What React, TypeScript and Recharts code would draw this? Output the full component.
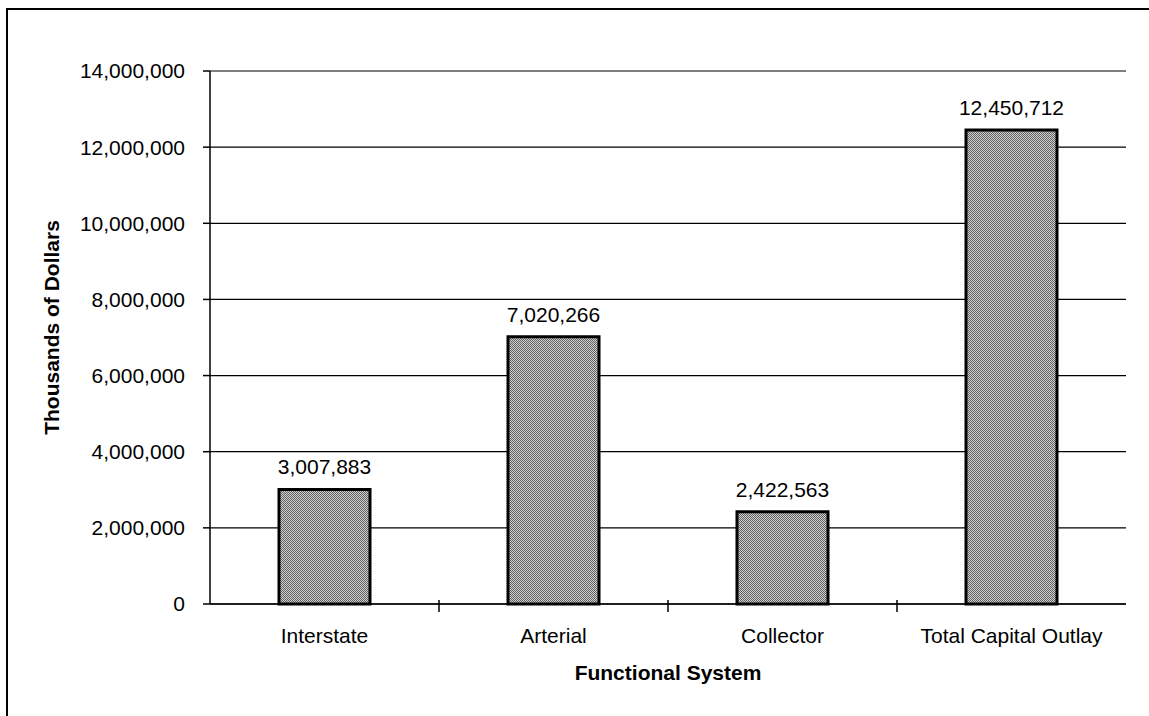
import React from 'react';
import { BarChart, Bar, XAxis, YAxis, CartesianGrid, LabelList } from 'recharts';

const categories = ['Interstate', 'Arterial', 'Collector', 'Total Capital Outlay'];
const outlay = [3007883, 7020266, 2422563, 12450712];
const yTicks = [0, 2000000, 4000000, 6000000, 8000000, 10000000, 12000000, 14000000];

const data = categories.map((name, i) => ({ name, value: outlay[i] }));

const FONT = 'Arial, "Liberation Sans", sans-serif';
const fmt = (v: number) => v.toLocaleString('en-US');

const CategoryTick = (props: any) => {
    const { x, y, payload, index, visibleTicksCount } = props;
    const half = payload.offset ?? 114.5;
    const last = index === (visibleTicksCount ?? categories.length) - 1;
    return (
        <g>
            <text x={x} y={y + 39} textAnchor="middle" fill="#000" fontSize={21} fontFamily={FONT}>
                {payload.value}
            </text>
            {!last && (
                <line x1={x + half} x2={x + half} y1={y - 4} y2={y + 8} stroke="#000" strokeWidth={1.5} />
            )}
        </g>
    );
};

export default function App() {
    return (
        <div style={{ position: 'absolute', left: 0, top: 0, width: 1149, height: 716, background: '#fff' }}>
            <div
                style={{
                    position: 'absolute',
                    left: 6,
                    top: 8,
                    width: 1149,
                    height: 720,
                    borderLeft: '2px solid #000',
                    borderTop: '2px solid #000'
                }}
            />
            <div style={{ position: 'absolute', left: 0, top: 0 }}>
                <BarChart
                    width={1149}
                    height={716}
                    data={data}
                    margin={{ top: 71, right: 23, bottom: 0, left: 0 }}
                    barCategoryGap={0}
                >
                    <defs>
                        <pattern id="dither" width={2} height={2} patternUnits="userSpaceOnUse">
                            <rect x={0} y={0} width={2} height={2} fill="#cfcfcf" />
                            <rect x={0} y={0} width={1} height={1} fill="#626262" />
                            <rect x={1} y={1} width={1} height={1} fill="#626262" />
                        </pattern>
                    </defs>
                    <CartesianGrid vertical={false} stroke="#000" strokeWidth={1.2} />
                    <XAxis
                        dataKey="name"
                        height={112}
                        axisLine={{ stroke: '#000', strokeWidth: 1.5 }}
                        tickLine={false}
                        tickSize={0}
                        tickMargin={0}
                        interval={0}
                        tick={<CategoryTick />}
                        label={{
                            content: ({ viewBox }: any) => (
                                <text
                                    x={viewBox.x + viewBox.width / 2}
                                    y={viewBox.y + 76}
                                    textAnchor="middle"
                                    fontSize={21}
                                    fontWeight="bold"
                                    fontFamily={FONT}
                                    fill="#000"
                                >
                                    Functional System
                                </text>
                            )
                        }}
                    />
                    <YAxis
                        width={210}
                        domain={[0, 14000000]}
                        ticks={yTicks}
                        interval={0}
                        tickFormatter={fmt}
                        axisLine={{ stroke: '#000', strokeWidth: 1.5 }}
                        tickLine={{ stroke: '#000', strokeWidth: 1.5 }}
                        tickSize={7}
                        tickMargin={18}
                        tick={{ fill: '#000', fontSize: 21, fontFamily: FONT }}
                        label={{
                            content: ({ viewBox }: any) => {
                                const cy = viewBox.y + viewBox.height / 2 - 10;
                                return (
                                    <text
                                        x={51}
                                        y={cy}
                                        transform={`rotate(-90 51 ${cy})`}
                                        textAnchor="middle"
                                        dominantBaseline="central"
                                        fontSize={21}
                                        fontWeight="bold"
                                        fontFamily={FONT}
                                        fill="#000"
                                    >
                                        Thousands of Dollars
                                    </text>
                                );
                            }
                        }}
                    />
                    <YAxis
                        yAxisId="frame"
                        orientation="right"
                        width={0}
                        domain={[0, 14000000]}
                        tick={false}
                        tickLine={false}
                        axisLine={{ stroke: '#000', strokeWidth: 1.5 }}
                    />
                    <Bar
                        dataKey="value"
                        barSize={91}
                        fill="url(#dither)"
                        stroke="#000"
                        strokeWidth={3}
                        isAnimationActive={false}
                    >
                        <LabelList
                            dataKey="value"
                            position="top"
                            offset={15}
                            formatter={(v: any) => fmt(Number(v))}
                            style={{ fill: '#000', fontSize: 21, fontFamily: FONT }}
                        />
                    </Bar>
                </BarChart>
            </div>
        </div>
    );
}
